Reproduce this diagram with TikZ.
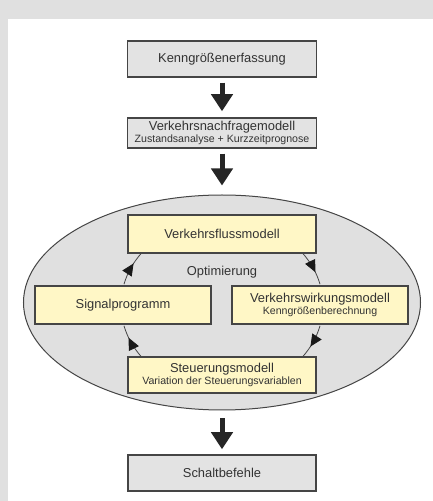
\documentclass[tikz,border=0pt]{standalone}
\usepackage{fontspec}
\setmainfont{Liberation Sans}
\usetikzlibrary{arrows.meta,shapes.geometric,decorations.markings}
\definecolor{bggrey}{HTML}{E0E0E0}
\definecolor{boxgrey}{HTML}{E3E3E3}
\definecolor{boxyel}{HTML}{FFF7C6}
\definecolor{linegrey}{HTML}{454545}
\definecolor{txtgrey}{HTML}{333333}
\newcommand{\subline}{\fontsize{10.6}{11.5}\selectfont}
\begin{document}
\begin{tikzpicture}[x=1pt,y=1pt,
  greybox/.style={draw=linegrey, line width=1.5pt, fill=boxgrey, minimum width=189pt,
    inner sep=0pt, align=center, text=txtgrey, font=\fontsize{12.9}{13.5}\selectfont},
  yelbox/.style={greybox, fill=boxyel, line width=1.2pt},
  bigarrow/.style={draw=black!85, line width=5pt, -{Triangle[length=17pt,width=21pt]}},
  looparc/.style={draw=linegrey, line width=0.8pt, postaction={decorate},
    decoration={markings, mark=at position 0.64 with {\arrow{Triangle[length=12pt,width=11pt,color=black!90]}}}},
]
\useasboundingbox (0,0) rectangle (433,501);
\fill[bggrey] (0,0) rectangle (433,501);
\fill[white] (8,0) rectangle (433,482);

\node[greybox, minimum height=36pt] (k1) at (222,442) {Kenngrößenerfassung};
\node[greybox, minimum height=30pt] (k2) at (222,368)
  {Verkehrsnachfragemodell\\[-1.5pt]{\subline Zustandsanalyse + Kurzzeitprognose}};

\node[ellipse, draw=linegrey, line width=1pt, fill=bggrey, minimum width=397pt,
  minimum height=215pt, inner sep=0pt] (ell) at (222,198.5) {};

\coordinate (lc) at (222,196);
\draw[looparc] (lc) ++(166:101 and 86) arc[start angle=166, end angle=143, x radius=101, y radius=86];
\draw[looparc] (lc) ++(37:101 and 86) arc[start angle=37, end angle=14, x radius=101, y radius=86];
\draw[looparc] (lc) ++(-14:101 and 86) arc[start angle=-14, end angle=-37, x radius=101, y radius=86];
\draw[looparc] (lc) ++(-143:101 and 86) arc[start angle=-143, end angle=-166, x radius=101, y radius=86];

\node[yelbox, minimum width=188pt, minimum height=38pt] (vf) at (222,267) {Verkehrsflussmodell};
\node[yelbox, minimum width=176pt, minimum height=38pt] (sp) at (123,196) {Signalprogramm};
\node[yelbox, minimum width=176pt, minimum height=38pt] (vw) at (320,196)
  {Verkehrswirkungsmodell\\[-1.5pt]{\subline Kenngrößenberechnung}};
\node[yelbox, minimum width=188pt, minimum height=36pt] (sm) at (222,126)
  {Steuerungsmodell\\[-1.5pt]{\subline Variation der Steuerungsvariablen}};
\node[text=txtgrey, font=\fontsize{12.9}{13.5}\selectfont] (opt) at (222,229) {Optimierung};

\node[greybox, minimum width=188pt, minimum height=36pt] (sb) at (222,28) {Schaltbefehle};

\draw[bigarrow, shorten <=5pt, shorten >=6pt] (k1.south) -- (k2.north);
\draw[bigarrow, shorten <=5pt, shorten >=9pt] (k2.south) -- (ell.north);
\draw[bigarrow, shorten <=8pt, shorten >=5pt] (ell.south) -- (sb.north);
\end{tikzpicture}
\end{document}
